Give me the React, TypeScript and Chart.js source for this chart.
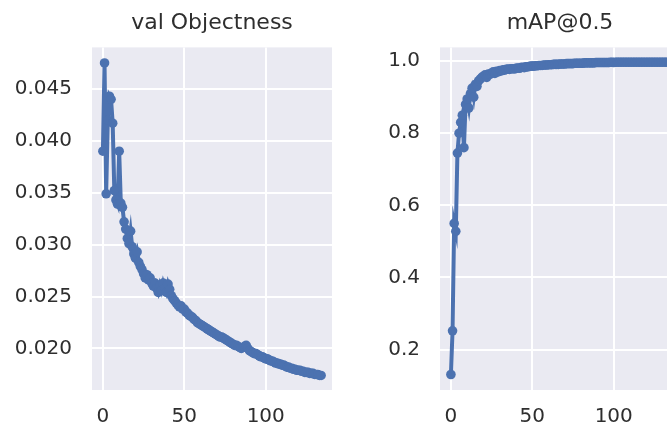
import React, { useEffect, useRef } from "react";
import { Chart, registerables } from "chart.js";

Chart.register(...registerables);

// ---------- data ----------
const epochs: number[] = Array.from({ length: 135 }, (_, i) => i);

const valObjectness: number[] = [
  0.0390, 0.0475, 0.0349, 0.0420, 0.0443, 0.0440, 0.0417, 0.0352, 0.0343, 0.0339,
  0.0390, 0.0340, 0.0336, 0.0322, 0.0315, 0.0306, 0.0301, 0.0313, 0.0298, 0.0291,
  0.0287, 0.0293, 0.0283, 0.0279, 0.0276, 0.0272, 0.0268, 0.0271, 0.0266, 0.0268,
  0.0263, 0.0260, 0.0263, 0.0258, 0.0254, 0.0261, 0.0256, 0.0263, 0.0258, 0.0254,
  0.0262, 0.0257, 0.0251, 0.0248, 0.0246, 0.0244, 0.0242, 0.0240, 0.0241, 0.0238,
  0.0238, 0.0235, 0.0234, 0.0232, 0.0231, 0.0230, 0.0228, 0.0227, 0.0225, 0.0224,
  0.0223, 0.0222, 0.0221, 0.0220, 0.0219, 0.0218, 0.0217, 0.0216, 0.0215, 0.0214,
  0.0213, 0.0212, 0.0211, 0.0211, 0.0210, 0.0209, 0.0208, 0.0207, 0.0206, 0.0205,
  0.0204, 0.0203, 0.0203, 0.0202, 0.0201, 0.0200, 0.0201, 0.0202, 0.0203, 0.0200,
  0.0198, 0.0197, 0.0196, 0.0195, 0.0195, 0.0194, 0.0193, 0.0192, 0.0192, 0.0191,
  0.0190, 0.0190, 0.0189, 0.0188, 0.0188, 0.0187, 0.0186, 0.0186, 0.0185, 0.0185,
  0.0184, 0.0184, 0.0183, 0.0182, 0.0182, 0.0181, 0.0181, 0.0180, 0.0180, 0.0179,
  0.0179, 0.0179, 0.0178, 0.0178, 0.0177, 0.0177, 0.0177, 0.0176, 0.0176, 0.0176,
  0.0175, 0.0175, 0.0175, 0.0174, 0.0174,
];

const mAP50: number[] = [
  0.131, 0.252, 0.550, 0.528, 0.745, 0.800, 0.830, 0.850, 0.760, 0.880,
  0.895, 0.870, 0.910, 0.925, 0.900, 0.935, 0.930, 0.945, 0.950, 0.955,
  0.958, 0.962, 0.955, 0.964, 0.963, 0.967, 0.970, 0.966, 0.972, 0.970,
  0.974, 0.973, 0.976, 0.975, 0.977, 0.978, 0.977, 0.979, 0.979, 0.978,
  0.980, 0.981, 0.980, 0.982, 0.983, 0.982, 0.984, 0.984, 0.985, 0.986,
  0.986, 0.986, 0.987, 0.987, 0.988, 0.988, 0.988, 0.989, 0.989, 0.989,
  0.990, 0.990, 0.990, 0.991, 0.991, 0.991, 0.991, 0.992, 0.992, 0.992,
  0.992, 0.993, 0.993, 0.993, 0.993, 0.993, 0.994, 0.994, 0.994, 0.994,
  0.994, 0.994, 0.995, 0.995, 0.995, 0.995, 0.995, 0.995, 0.995, 0.996,
  0.996, 0.996, 0.996, 0.996, 0.996, 0.996, 0.996, 0.996, 0.997, 0.997,
  0.996, 0.997, 0.997, 0.997, 0.997, 0.997, 0.997, 0.997, 0.997, 0.997,
  0.997, 0.997, 0.997, 0.997, 0.997, 0.997, 0.997, 0.997, 0.997, 0.997,
  0.997, 0.997, 0.997, 0.997, 0.997, 0.997, 0.997, 0.997, 0.997, 0.997,
  0.997, 0.997, 0.997, 0.997, 0.997,
];

const xTicks: number[] = [0, 50, 100];
const objTicks: number[] = [0.020, 0.025, 0.030, 0.035, 0.040, 0.045];
const mapTicks: number[] = [0.2, 0.4, 0.6, 0.8, 1.0];

// ---------- styling ----------
const LINE = "#4C72B0";
const TEXT = "#2E2E2E";
const FONT = "DejaVu Sans";

const plotBg = {
  id: "plotBg",
  beforeDraw(chart: any) {
    const { ctx, chartArea: a } = chart;
    ctx.save();
    ctx.fillStyle = "#EAEAF2";
    ctx.fillRect(a.left, a.top, a.right - a.left, a.bottom - a.top);
    ctx.restore();
  },
};

function makeConfig(
  title: string,
  values: number[],
  yMin: number,
  yMax: number,
  yTicks: number[],
  decimals: number,
  yAxisWidth: number,
  padRight: number
): any {
  return {
    type: "line",
    data: {
      labels: epochs,
      datasets: [
        {
          data: values,
          borderColor: LINE,
          backgroundColor: LINE,
          borderWidth: 4,
          pointRadius: 4.8,
          pointBorderWidth: 0,
          pointBackgroundColor: LINE,
          tension: 0,
        },
      ],
    },
    options: {
      responsive: false,
      animation: false,
      layout: { padding: { left: 0, right: padRight, top: 0, bottom: 0 } },
      plugins: {
        legend: { display: false },
        tooltip: { enabled: false },
        title: {
          display: true,
          text: title,
          fullSize: false,
          color: TEXT,
          font: { family: FONT, size: 22, weight: "normal" },
          padding: { top: 10, bottom: 11 },
        },
      },
      scales: {
        x: {
          type: "linear",
          min: -6.7,
          max: 140.7,
          afterBuildTicks: (s: any) => {
            s.ticks = xTicks.map((v) => ({ value: v }));
          },
          afterFit: (s: any) => {
            s.height = 40;
          },
          grid: { color: "#FFFFFF", lineWidth: 2, drawTicks: false },
          border: { display: false },
          ticks: {
            color: TEXT,
            font: { family: FONT, size: 20 },
            padding: 15,
            maxRotation: 0,
            autoSkip: false,
            callback: (v: any) => String(v),
          },
        },
        y: {
          type: "linear",
          min: yMin,
          max: yMax,
          afterBuildTicks: (s: any) => {
            s.ticks = yTicks.map((v) => ({ value: v }));
          },
          afterFit: (s: any) => {
            s.width = yAxisWidth;
          },
          grid: { color: "#FFFFFF", lineWidth: 2, drawTicks: false },
          border: { display: false },
          ticks: {
            color: TEXT,
            font: { family: FONT, size: 20 },
            padding: 20,
            autoSkip: false,
            callback: (v: any) => Number(v).toFixed(decimals),
          },
        },
      },
    },
    plugins: [plotBg],
  };
}

export default function App() {
  const leftRef = useRef<HTMLCanvasElement | null>(null);
  const rightRef = useRef<HTMLCanvasElement | null>(null);

  useEffect(() => {
    const c1 = new Chart(
      leftRef.current as HTMLCanvasElement,
      makeConfig("val Objectness", valObjectness, 0.016, 0.049, objTicks, 3, 92, 13)
    );
    const c2 = new Chart(
      rightRef.current as HTMLCanvasElement,
      makeConfig("mAP@0.5", mAP50, 0.088, 1.038, mapTicks, 1, 100, 10)
    );
    return () => {
      c1.destroy();
      c2.destroy();
    };
  }, []);

  return (
    <div
      style={{
        position: "fixed",
        left: 0,
        top: 0,
        width: 667,
        height: 430,
        overflow: "hidden",
        background: "#FFFFFF",
      }}
    >
      <canvas
        ref={leftRef}
        width={345}
        height={430}
        style={{ position: "absolute", left: 0, top: 0, width: 345, height: 430 }}
      />
      <canvas
        ref={rightRef}
        width={350}
        height={430}
        style={{ position: "absolute", left: 340, top: 0, width: 350, height: 430 }}
      />
    </div>
  );
}
